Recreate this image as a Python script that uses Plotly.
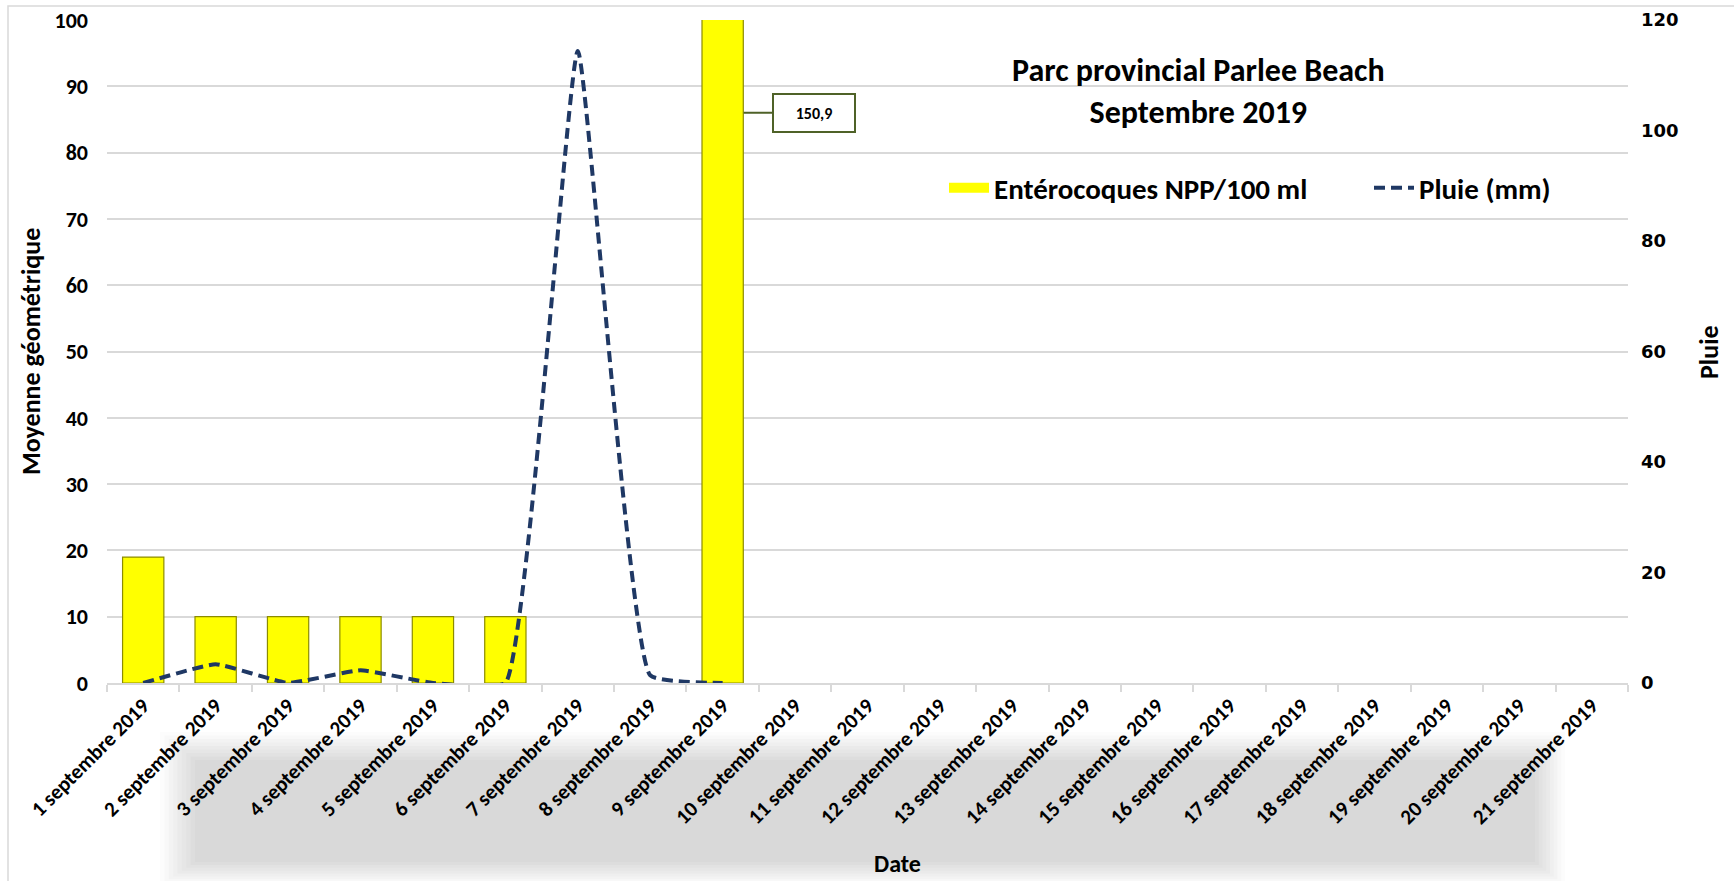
import plotly.graph_objects as go

# ---------------- data ----------------
dates = [
    "1 septembre 2019", "2 septembre 2019", "3 septembre 2019", "4 septembre 2019",
    "5 septembre 2019", "6 septembre 2019", "7 septembre 2019", "8 septembre 2019",
    "9 septembre 2019", "10 septembre 2019", "11 septembre 2019", "12 septembre 2019",
    "13 septembre 2019", "14 septembre 2019", "15 septembre 2019", "16 septembre 2019",
    "17 septembre 2019", "18 septembre 2019", "19 septembre 2019", "20 septembre 2019",
    "21 septembre 2019",
]
enterococci = [19, 10, 10, 10, 10, 10, None, None, 150.9,
               None, None, None, None, None, None, None, None, None, None, None, None]
rain_mm = [0, 3.4, 0, 2.3, 0, 0, 114.4, 1.4, 0,
           None, None, None, None, None, None, None, None, None, None, None, None]
left_ticks = [0, 10, 20, 30, 40, 50, 60, 70, 80, 90, 100]
right_ticks = [0, 20, 40, 60, 80, 100, 120]

# ---------------- geometry helpers ----------------
W, H = 1734, 881
L, R, T, B = 107, 1628, 20, 683   # plot area in pixels


def px(x):
    return (x - L) / (R - L)


def py(y):
    return (B - y) / (B - T)


FONT = "Carlito, 'Liberation Sans Narrow', Lato, sans-serif"
GRID = "#d9d9d9"
YELLOW = "#FFFF00"

fig = go.Figure()
fig.add_trace(go.Bar(
    x=dates, y=enterococci, name="Entérocoques NPP/100 ml",
    marker=dict(color=YELLOW, line=dict(color="#8C8C00", width=1.2)),
    yaxis="y", showlegend=False,
))
# legend entry with a wide yellow swatch for the bar series
fig.add_trace(go.Scatter(
    x=[None], y=[None], name="Entérocoques NPP/100 ml", mode="lines",
    line=dict(color=YELLOW, width=16), legend="legend", hoverinfo="skip",
))
fig.add_trace(go.Scatter(
    x=dates, y=rain_mm, name="Pluie (mm)", mode="lines",
    line=dict(color="#1F3864", width=4, dash="11px,6px", shape="spline", smoothing=0.35),
    yaxis="y2", connectgaps=False, legend="legend2",
))

shapes = []
# blurred grey band behind the x labels (outer -> inner, light -> dark)
outer = (160, 732, 1565, 885)
inner = (195, 760, 1535, 862)
steps = 9
for i in range(steps):
    f = i / (steps - 1)
    x0 = outer[0] + (inner[0] - outer[0]) * f
    y0 = outer[1] + (inner[1] - outer[1]) * f
    x1 = outer[2] + (inner[2] - outer[2]) * f
    y1 = outer[3] + (inner[3] - outer[3]) * f
    g = int(round(252 - (252 - 217) * f))
    shapes.append(dict(type="rect", xref="paper", yref="paper", layer="below",
                       x0=px(x0), x1=px(x1), y0=py(y1), y1=py(y0),
                       line=dict(width=0), fillcolor=f"rgb({g},{g},{g})"))
# chart border
shapes.append(dict(type="rect", xref="paper", yref="paper", layer="below",
                   x0=px(8), x1=px(1745), y0=py(895), y1=py(6),
                   line=dict(color=GRID, width=1.5), fillcolor="rgba(0,0,0,0)"))

label = f"{enterococci[8]:.1f}".replace(".", ",")

annotations = [
    dict(text="<b>Parc provincial Parlee Beach<br>Septembre 2019</b>",
         xref="paper", yref="paper", x=px(1198), y=py(92), xanchor="center", yanchor="middle",
         showarrow=False, font=dict(family=FONT, size=32, color="#000"), align="center"),
    dict(text="<b>Moyenne géométrique</b>", xref="paper", yref="paper",
         x=px(31), y=py(352), xanchor="center", yanchor="middle", textangle=-90, showarrow=False,
         font=dict(family=FONT, size=26, color="#000")),
    dict(text="<b>Pluie</b>", xref="paper", yref="paper",
         x=px(1709), y=py(352), xanchor="center", yanchor="middle", textangle=-90, showarrow=False,
         font=dict(family=FONT, size=26, color="#000")),
    dict(text="<b>Date</b>", xref="paper", yref="paper",
         x=px(898), y=py(863), xanchor="center", yanchor="middle", showarrow=False,
         font=dict(family=FONT, size=24, color="#000")),
    dict(text=f"<b>{label}</b>", xref="x", yref="y", x=dates[8], y=86,
         xshift=21, ax=70, ay=0, axref="pixel", ayref="pixel",
         showarrow=True, arrowhead=0, arrowwidth=2, arrowcolor="#4F6228", standoff=0,
         bordercolor="#4F6228", borderwidth=2, borderpad=3, bgcolor="#FFFFFF",
         width=74, height=30, font=dict(family=FONT, size=16, color="#000")),
]

legend_font = dict(family=FONT, size=29, color="#000", weight="bold")

fig.update_layout(
    width=W, height=H, autosize=False,
    margin=dict(l=L, r=W - R, t=T, b=H - B, autoexpand=False),
    paper_bgcolor="#FFFFFF", plot_bgcolor="#FFFFFF",
    bargap=0.43,
    showlegend=True,
    legend=dict(orientation="v", x=px(944), y=py(188), xanchor="left", yanchor="middle",
                font=legend_font, bgcolor="rgba(0,0,0,0)", itemwidth=40),
    legend2=dict(orientation="v", x=px(1369), y=py(188), xanchor="left", yanchor="middle",
                 font=legend_font, bgcolor="rgba(0,0,0,0)", itemwidth=40),
    xaxis=dict(type="category", categoryorder="array", categoryarray=dates,
               range=[-0.5, len(dates) - 0.5],
               showline=True, linecolor=GRID, linewidth=2,
               ticks="outside", tickson="boundaries", ticklen=7, tickcolor=GRID, tickwidth=2,
               tickangle=-45, showgrid=False,
               tickfont=dict(family=FONT, size=21, color="#000", weight="bold")),
    yaxis=dict(range=[0, 100], tickvals=left_ticks, showgrid=True, gridcolor=GRID, gridwidth=1.5,
               showline=False, zeroline=False, ticks="", ticklabelstandoff=18,
               tickfont=dict(family=FONT, size=22, color="#000", weight="bold")),
    yaxis2=dict(range=[0, 120], tickvals=right_ticks, overlaying="y", side="right",
                showgrid=False, showline=False, zeroline=False, ticks="", ticklabelstandoff=12,
                tickfont=dict(family="DejaVu Sans", size=18, color="#000", weight="bold")),
    shapes=shapes,
    annotations=annotations,
)

fig.write_html("out.html", config={"displayModeBar": False},
               post_script="document.body.style.margin='0';")
